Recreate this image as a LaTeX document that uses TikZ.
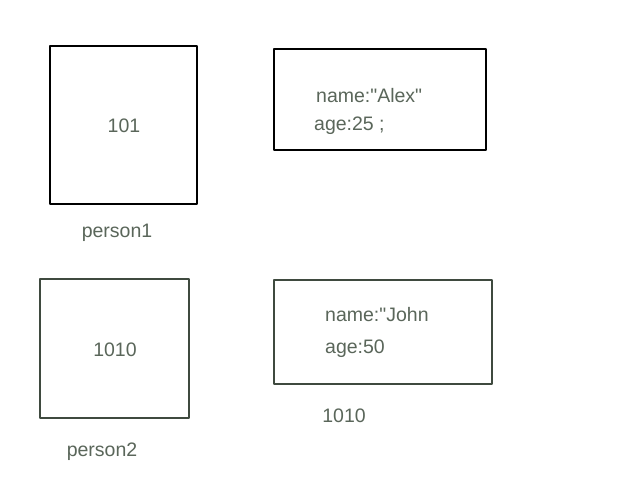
\documentclass[tikz,border=0pt]{standalone}
\usepackage{fontspec}
\setmainfont{Liberation Sans}[Ligatures=TeXOff]
\begin{document}
\begin{tikzpicture}[x=1pt,y=-1pt,
  sketch/.style={draw=#1,line width=1.1pt,line join=round,rectangle,inner sep=0pt},
  sketch/.default={black},
  lbl/.style={text=txtc,font=\fontsize{19.5}{23}\selectfont,inner sep=0pt}]
\definecolor{txtc}{HTML}{5A665A}
\definecolor{boxc}{HTML}{3F4A3F}
\useasboundingbox[fill=white] (0,0) rectangle (617,478);
% boxes
\node[sketch=black,minimum width=147pt,minimum height=158pt] (b1) at (123.5,125) {};
\node[sketch=black,minimum width=212pt,minimum height=101pt] (b2) at (380,99.5) {};
\node[sketch=boxc,minimum width=149pt,minimum height=139pt] (b3) at (114.5,348.5) {};
\node[sketch=boxc,minimum width=218pt,minimum height=104pt] (b4) at (383,332) {};
% texts
\node[lbl] (t1) at (124,126) {101};
\node[lbl] (p1) at (117,233) {person1};
\node[lbl,anchor=west] (n1) at (316,96) {name:"Alex"};
\node[lbl,anchor=west] (a1) at (314,126) {age:25 ;};
\node[lbl] (t3) at (115,350) {1010};
\node[lbl] (p2) at (102,452) {person2};
\node[lbl,anchor=west] (n2) at (325,315) {name:"John};
\node[lbl,anchor=west] (a2) at (325,349) {age:50};
\node[lbl] (r2) at (344,416) {1010};
\end{tikzpicture}
\end{document}
